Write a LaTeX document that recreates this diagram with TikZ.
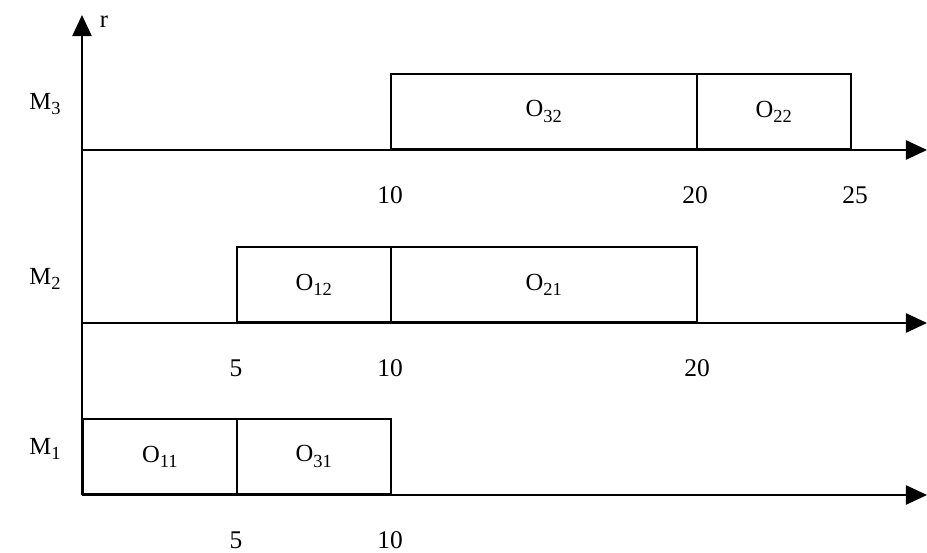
\documentclass[tikz,border=0pt]{standalone}
\usepackage{fontspec}
\setmainfont{Liberation Serif}
\usetikzlibrary{positioning, arrows.meta}

\newcommand{\opname}[1]{O\raisebox{-0.5ex}{\fontsize{10.5}{12}\selectfont #1}}
\newcommand{\mach}[1]{M\raisebox{-0.5ex}{\fontsize{10.5}{12}\selectfont #1}}

\tikzset{
  axis/.style={line width=0.9pt,-{Triangle[length=12pt,width=11pt]}},
  opbox/.style={draw,line width=0.9pt,minimum height=1.5cm,inner sep=0pt,anchor=south west},
  tick/.style={font=\fontsize{14.5}{17}\selectfont,inner sep=1pt},
}

\begin{document}
\begin{tikzpicture}[x=0.02cm,y=-0.02cm,font=\fontsize{14}{17}\selectfont]
\useasboundingbox (0,0) rectangle (927,553);

% axes
\coordinate (o) at (82,495);
\coordinate (top) at (82,15);
\coordinate (s3) at (82,150);
\coordinate (s2) at (82,323);
\coordinate (e3) at (927,150);
\coordinate (e2) at (927,323);
\coordinate (e1) at (927,495);

\draw[axis] (o)--(top);
\draw[axis] (s3)--(e3);
\draw[axis] (s2)--(e2);
\draw[axis] (o)--(e1);

\node (r) at (104,22) {r};
\node (m3) at (45,104) {\mach{3}};
\node (m2) at (45,279) {\mach{2}};
\node (m1) at (45,449) {\mach{1}};

% machine 3
\node[opbox,minimum width=6.12cm] (o32) at (390,150) {\opname{32}};
\node[opbox,minimum width=3.08cm] (o22) at (696,150) {\opname{22}};
% machine 2
\node[opbox,minimum width=3.08cm] (o12) at (236,323) {\opname{12}};
\node[opbox,minimum width=6.12cm] (o21) at (390,323) {\opname{21}};
% machine 1
\node[opbox,minimum width=3.08cm] (o11) at (82,495) {\opname{11}};
\node[opbox,minimum width=3.08cm] (o31) at (236,495) {\opname{31}};

% times
\node[tick] (t3a) at (390,195) {10};
\node[tick] (t3b) at (695,195) {20};
\node[tick] (t3c) at (855,195) {25};
\node[tick] (t2a) at (236,368) {5};
\node[tick] (t2b) at (390,368) {10};
\node[tick] (t2c) at (697,368) {20};
\node[tick] (t1a) at (236,540) {5};
\node[tick] (t1b) at (390,540) {10};
\end{tikzpicture}
\end{document}
